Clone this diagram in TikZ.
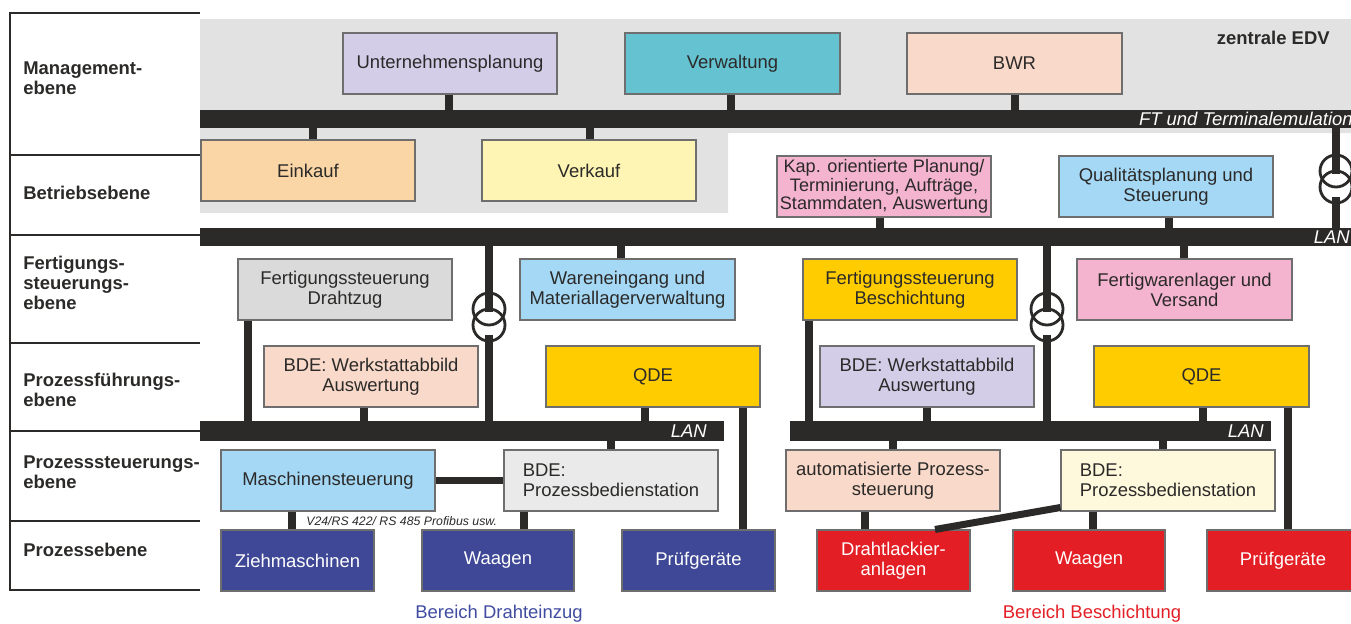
\documentclass[tikz,border=0pt]{standalone}
\usepackage{fontspec}
\setmainfont{Liberation Sans}
\usepackage{tikz}
\usetikzlibrary{positioning}
\tikzstyle{plan} = [x = .02cm, y = -.02cm]
\definecolor{busColor}{RGB}{43,42,41}
\definecolor{textColor}{RGB}{43,42,41}
\definecolor{boxBorder}{RGB}{110,110,110}
\definecolor{edvGray}{RGB}{226,226,226}
\definecolor{boxLavender}{RGB}{211,205,232}
\definecolor{boxTeal}{RGB}{101,194,209}
\definecolor{boxPeach}{RGB}{249,217,201}
\definecolor{boxApricot}{RGB}{250,213,165}
\definecolor{boxCream}{RGB}{254,245,180}
\definecolor{boxPink}{RGB}{244,179,207}
\definecolor{boxSky}{RGB}{164,216,245}
\definecolor{boxGray}{RGB}{218,218,218}
\definecolor{boxYellow}{RGB}{255,204,0}
\definecolor{boxLight}{RGB}{233,234,233}
\definecolor{boxIvory}{RGB}{254,248,220}
\definecolor{fieldBlue}{RGB}{63,72,150}
\definecolor{fieldRed}{RGB}{227,30,36}
\definecolor{areaBlue}{RGB}{64,76,160}
\newcommand{\unitLength}{0.02cm}
\newcommand{\boxFont}{\fontsize{10.5}{11.5}\selectfont}
\newcommand{\kapFont}{\fontsize{10.3}{10.5}\selectfont}
\tikzstyle{boxStyle} = [draw=boxBorder, line width=.6pt, text=textColor, align=center, inner sep=0pt, font=\boxFont]
\tikzstyle{blueField} = [fill=fieldBlue, text=white]
\tikzstyle{redField} = [fill=fieldRed, text=white]
\tikzstyle{busStyle} = [fill=busColor, inner sep=0pt]
\tikzstyle{busText} = [text=white, font=\boxFont\itshape, anchor=east, inner sep=0pt]
\tikzstyle{levelText} = [text=textColor, font=\boxFont\bfseries, anchor=west, align=left, inner sep=0pt]
\tikzstyle{linkStyle} = [color=busColor, line width=4.3pt]
\tikzstyle{coilStyle} = [color=busColor, line width=1.6pt]
\tikzstyle{tableLine} = [color=busColor, line width=.8pt]
\newcommand{\infoBox}[7]{\node [boxStyle, #2, minimum width = {(#5 - #3) * \unitLength}, minimum height = {(#6 - #4) * \unitLength}] (#1) at ({(#3 + #5) / 2}, {(#4 + #6) / 2}) {#7};}
\newcommand{\busBar}[5]{\node [busStyle, minimum width = {(#4 - #2) * \unitLength}, minimum height = {(#5 - #3) * \unitLength}] (#1) at ({(#2 + #4) / 2}, {(#3 + #5) / 2}) {};}
\newcommand{\upLink}[3]{\draw [linkStyle] (#1.south -| #2, 0) -- (#3.north -| #2, 0);}
\newcommand{\downLink}[3]{\draw [linkStyle] (#1.south -| #2, 0) -- (#3.north -| #2, 0);}
\newcommand{\throughLink}[3]{\draw [linkStyle] (#1.south -| #2, 0) -- (#3.south -| #2, 0);}
\newcommand{\transformer}[3]{
  \foreach \offset in {-8, 8} {
    \draw [coilStyle] (#2, #3 + \offset) circle [radius = 16 * \unitLength];
  }
  \coordinate (#1in) at (#2, #3 - 5);
  \coordinate (#1out) at (#2, #3 + 18);
}
\newcommand{\coupling}[3]{
  \draw [linkStyle] (#1in |- #2.south) -- (#1in);
  \draw [linkStyle] (#1out) -- (#1out |- #3.north);
}

\begin{document}
\begin{tikzpicture}[plan]
  \path [use as bounding box] (0,0) rectangle (1351,623);
  \fill [edvGray] (200,19) -- (1351,19) -- (1351,133) -- (728,133) -- (728,213) -- (200,213) -- cycle;

  \draw [tableLine] (200,13) -- (10,13) -- (10,590) -- (200,590);
  \foreach \row in {155, 235, 343, 431, 521} {
    \draw [tableLine] (10,\row) -- (200,\row);
  }
  \node [levelText] (lvlManagement) at (23,78) {Management-\\ebene};
  \node [levelText] (lvlBetrieb) at (23,193) {Betriebsebene};
  \node [levelText] (lvlFertigung) at (23,283) {Fertigungs-\\steuerungs-\\ebene};
  \node [levelText] (lvlFuehrung) at (23,390) {Prozessführungs-\\ebene};
  \node [levelText] (lvlSteuerung) at (23,472) {Prozesssteuerungs-\\ebene};
  \node [levelText] (lvlProzess) at (23,550) {Prozessebene};
  \node [levelText, anchor=east] (edvLabel) at (1330,38) {zentrale EDV};

  \busBar{busA}{200}{110}{1356}{128}
  \busBar{busB}{200}{228}{1356}{246}
  \busBar{busC}{200}{421}{724}{441}
  \busBar{busD}{790}{421}{1271}{441}
  \node [busText] (busALabel) at (1353,119) {FT und Terminalemulation};
  \node [busText] (busBLabel) at (1350,237) {LAN};
  \node [busText] (busCLabel) at (707,431) {LAN};
  \node [busText] (busDLabel) at (1264,431) {LAN};

  \infoBox{upl}{fill=boxLavender}{343}{33}{557}{94}{Unternehmensplanung}
  \infoBox{verw}{fill=boxTeal}{625}{33}{840}{94}{Verwaltung}
  \infoBox{bwr}{fill=boxPeach}{907}{33}{1122}{94}{BWR}
  \infoBox{einkauf}{fill=boxApricot}{201}{140}{415}{201}{Einkauf}
  \infoBox{verkauf}{fill=boxCream}{482}{140}{696}{201}{Verkauf}
  \infoBox{kap}{fill=boxPink, font=\kapFont}{777}{156}{991}{217}{Kap. orientierte Planung/\\Terminierung, Aufträge,\\Stammdaten, Auswertung}
  \infoBox{qual}{fill=boxSky}{1059}{156}{1273}{217}{Qualitätsplanung und\\Steuerung}
  \infoBox{fsd}{fill=boxGray}{238}{259}{452}{320}{Fertigungssteuerung\\Drahtzug}
  \infoBox{waren}{fill=boxSky}{520}{259}{735}{320}{Wareneingang und\\Materiallagerverwaltung}
  \infoBox{fsb}{fill=boxYellow}{803}{259}{1017}{320}{Fertigungssteuerung\\Beschichtung}
  \infoBox{fwl}{fill=boxPink}{1077}{259}{1292}{320}{Fertigwarenlager und\\Versand}
  \infoBox{bdeWl}{fill=boxPeach}{264}{346}{478}{407}{BDE: Werkstattabbild\\Auswertung}
  \infoBox{qdeL}{fill=boxYellow}{546}{346}{760}{407}{QDE}
  \infoBox{bdeWr}{fill=boxLavender}{820}{346}{1034}{407}{BDE: Werkstattabbild\\Auswertung}
  \infoBox{qdeR}{fill=boxYellow}{1094}{346}{1309}{407}{QDE}
  \infoBox{mst}{fill=boxSky}{221}{450}{435}{511}{Maschinensteuerung}
  \infoBox{bdePl}{fill=boxLight, align=left}{504}{450}{718}{511}{BDE:\\Prozessbedienstation}
  \infoBox{autoSt}{fill=boxPeach}{786}{450}{1000}{511}{automatisierte Prozess-\\steuerung}
  \infoBox{bdePr}{fill=boxIvory, align=left}{1061}{450}{1275}{511}{BDE:\\Prozessbedienstation}
  \infoBox{zieh}{blueField}{221}{530}{374}{591}{Ziehmaschinen}
  \infoBox{waagL}{blueField}{422}{530}{574}{591}{Waagen}
  \infoBox{pruefL}{blueField}{622}{530}{775}{591}{Prüfgeräte}
  \infoBox{draht}{redField}{817}{530}{970}{591}{Drahtlackier-\\anlagen}
  \infoBox{waagR}{redField}{1013}{530}{1165}{591}{Waagen}
  \infoBox{pruefR}{redField}{1207}{530}{1359}{591}{Prüfgeräte}

  \upLink{upl}{449}{busA}
  \upLink{verw}{731}{busA}
  \upLink{bwr}{1015}{busA}
  \downLink{busA}{313}{einkauf}
  \downLink{busA}{590}{verkauf}
  \upLink{kap}{880}{busB}
  \upLink{qual}{1169}{busB}
  \downLink{busB}{621}{waren}
  \downLink{busB}{1184}{fwl}
  \throughLink{fsd}{248}{busC}
  \throughLink{bdeWl}{364}{busC}
  \throughLink{fsb}{809}{busD}
  \upLink{bdeWr}{927}{busD}
  \upLink{qdeL}{645}{busC}
  \upLink{qdeR}{1203}{busD}
  \downLink{qdeL}{743}{pruefL}
  \downLink{qdeR}{1288}{pruefR}
  \downLink{busC}{611}{bdePl}
  \downLink{busD}{893}{autoSt}
  \downLink{busD}{1163}{bdePr}
  \downLink{mst}{292}{zieh}
  \downLink{bdePl}{524}{waagL}
  \downLink{autoSt}{865}{draht}
  \downLink{bdePr}{1093}{waagR}
  \draw [linkStyle] (mst.east) -- (bdePl.west);
  \draw [linkStyle, line width=4pt] ([yshift=2.3pt]bdePr.south west) -- (draht.north -| 935, 0);

  \transformer{trA}{1336}{179}
  \transformer{trB}{489}{317}
  \transformer{trC}{1047}{317}
  \coupling{trA}{busA}{busB}
  \draw [linkStyle] (trBin |- busB.south) -- (trBin);
  \draw [linkStyle] (trBout) -- (trBout |- busC.south);
  \draw [linkStyle] (trCin |- busB.south) -- (trCin);
  \draw [linkStyle] (trCout) -- (trCout |- busD.south);

  \node [text=textColor, font=\fontsize{7}{8}\selectfont\itshape, anchor=west, inner sep=0pt] (protoLabel) at (306,521) {V24/RS 422/ RS 485 Profibus usw.};
  \node [text=areaBlue, font=\boxFont] (areaDraht) at (499,614) {Bereich Drahteinzug};
  \node [text=fieldRed, font=\boxFont] (areaBesch) at (1092,614) {Bereich Beschichtung};
\end{tikzpicture}
\end{document}
